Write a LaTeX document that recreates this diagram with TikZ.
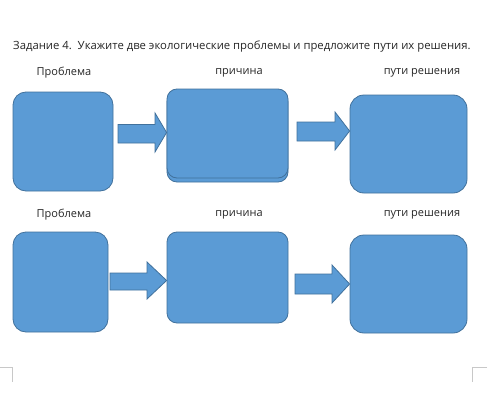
\documentclass[tikz,border=0pt]{standalone}
\usepackage{fontspec}
\setmainfont{Open Sans}
\usetikzlibrary{calc}
\definecolor{boxfill}{HTML}{5B9BD5}
\definecolor{boxline}{HTML}{41719C}
\definecolor{marks}{HTML}{C8C8C8}
\begin{document}
\begin{tikzpicture}[x=1pt,y=-1pt,
  blk/.style={draw=boxline,fill=boxfill,line width=0.8pt,inner sep=0pt,rectangle},
  lbl/.style={font=\fontsize{11}{13}\selectfont,text=black!85,inner sep=0pt},
  blockarrow/.style={draw=boxline,fill=boxfill,line width=0.8pt,line join=miter}]
\useasboundingbox (0,0) rectangle (500,404);
\fill[white] (0,0) rectangle (500,404);
% title
\node[lbl,anchor=west,font=\fontsize{11.3}{13}\selectfont] (title) at (13,47) {Задание 4.\ \ Укажите две экологические проблемы и предложите пути их решения.};
% headers row 1
\node[lbl] (h1) at (64,73) {Проблема};
\node[lbl] (h2) at (239,73) {причина};
\node[lbl] (h3) at (422,73) {пути решения};
% headers row 2
\node[lbl] (h4) at (64,215) {Проблема};
\node[lbl] (h5) at (239,215) {причина};
\node[lbl] (h6) at (422,215) {пути решения};
% boxes row 1
\node[blk,rounded corners=13pt,minimum width=100pt,minimum height=99pt] (b1) at (63,141.5) {};
\draw[boxline,line width=0.8pt,rounded corners=10pt,fill=boxfill] (167,92) rectangle (288,182);
\node[blk,rounded corners=10pt,minimum width=121pt,minimum height=89pt] (b2) at (227.5,133.5) {};
\node[blk,rounded corners=14pt,minimum width=117pt,minimum height=98pt] (b3) at (408.5,144) {};
% boxes row 2
\node[blk,rounded corners=13pt,minimum width=95pt,minimum height=100pt] (b4) at (60.5,282) {};
\node[blk,rounded corners=10pt,minimum width=121pt,minimum height=91pt] (b5) at (227.5,277.5) {};
\node[blk,rounded corners=14pt,minimum width=117pt,minimum height=98pt] (b6) at (408.5,284) {};
% block arrows
\draw[blockarrow] (118,124.5) -- (155,124.5) -- (155,113) -- (b2.west |- 0,132.5) -- (155,152) -- (155,143) -- (118,143) -- cycle;
\draw[blockarrow] (297,122) -- (335,122) -- (335,112) -- (b3.west |- 0,131) -- (335,150) -- (335,141) -- (297,141) -- cycle;
\draw[blockarrow] (110,273) -- (147,273) -- (147,262) -- (b5.west |- 0,280.5) -- (147,299) -- (147,290) -- (110,290) -- cycle;
\draw[blockarrow] (295,274) -- (332,274) -- (332,265) -- (b6.west |- 0,284) -- (332,303) -- (332,294) -- (295,294) -- cycle;
% corner marks
\draw[marks,line width=0.7pt] (0,367) -- (12,367) -- (12,382);
\draw[marks,line width=0.7pt] (487,367) -- (472,367) -- (472,382);
\end{tikzpicture}
\end{document}
